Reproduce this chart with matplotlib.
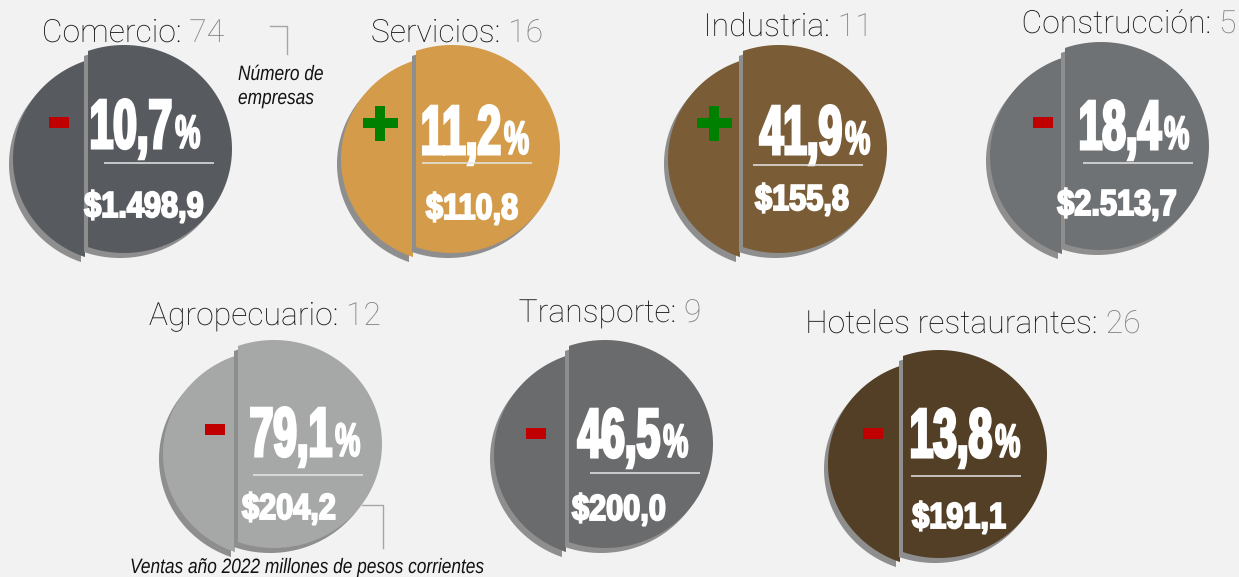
import numpy as np
import matplotlib
matplotlib.use("Agg")
import matplotlib.pyplot as plt
from matplotlib.patches import Polygon, Rectangle
from matplotlib.patheffects import AbstractPathEffect
from matplotlib.transforms import Affine2D, Bbox
from matplotlib.text import Text

# ---------------- data ----------------
sectors = ["Comercio", "Servicios", "Industria", "Construcción",
           "Agropecuario", "Transporte", "Hoteles restaurantes"]
companies = [74, 16, 11, 5, 12, 9, 26]
change_pct = [-10.7, 11.2, 41.9, -18.4, -79.1, -46.5, -13.8]
sales_2022 = [1498.9, 110.8, 155.8, 2513.7, 204.2, 200.0, 191.1]
colors = ["#575a5f", "#d49b4a", "#7a5c36", "#6f7275",
          "#a6a7a7", "#6a6b6d", "#533f26"]

# ---------------- layout (pixels) ----------------
W, H = 1239, 577
circ = [(124, 149), (452, 149), (779, 149), (1101, 146), (274, 444), (605, 444), (939, 454)]
title_pos = [(133, 42), (457, 42), (788, 36), (1129, 33), (265, 325), (610, 322), (973, 333)]
pct_pos = [(145, 148), (475, 154), (815, 154), (1134, 149), (305, 456), (633, 457), (965, 457)]
val_pos = [(144, 217), (472, 219), (802, 210), (1117, 215), (289, 519), (619, 520), (959, 528)]
line_pos = [(104, 163), (422, 163), (753, 165), (1083, 163), (253, 475), (590, 473), (911, 476)]
sign_pos = [(59, 122), (380, 123), (714, 123), (1043, 122), (215, 429), (536, 433), (873, 433)]
RX, RY, SPLIT = 108, 104, -36
LEFT_SHIFT = (-3, 10)
SHADOW = (-4, 5)
SHADOW_COL = "#8e8e8e"
BG = "#f2f2f2"


class Squeeze(AbstractPathEffect):
    """Draw glyphs horizontally condensed (optionally emboldened)."""
    def __init__(self, sx=1.0, lw=0.0):
        super().__init__()
        self.sx = sx
        self.lw = lw

    def draw_path(self, renderer, gc, tpath, affine, rgbFace=None):
        gc0 = renderer.new_gc()
        gc0.copy_properties(gc)
        if self.lw > 0 and rgbFace is not None:
            gc0.set_linewidth(self.lw)
            gc0.set_foreground(rgbFace)
            gc0.set_joinstyle("miter")
        renderer.draw_path(gc0, tpath, Affine2D().scale(self.sx, 1.0) + affine, rgbFace)
        gc0.restore()


class SqueezedText(Text):
    """Real text object, left aligned, drawn condensed; extent reports condensed width."""
    def __init__(self, x, y, s, sx=1.0, lw=0.0, **kw):
        super().__init__(x, y, s, ha="left", va="baseline", **kw)
        self._sx = sx
        self.set_path_effects([Squeeze(sx, lw)])

    def get_window_extent(self, renderer=None, dpi=None):
        bb = super().get_window_extent(renderer, dpi)
        return Bbox.from_extents(bb.x0, bb.y0, bb.x0 + bb.width * self._sx, bb.y1)


fig = plt.figure(figsize=(W / 100, H / 100), dpi=100)
fig.patch.set_facecolor(BG)
ax = fig.add_axes([0, 0, 1, 1])
ax.set_xlim(0, W)
ax.set_ylim(H, 0)
ax.axis("off")
ax.set_facecolor(BG)

fig.canvas.draw()
renderer = fig.canvas.get_renderer()


def add_text(x, y, s, sx=1.0, lw=0.0, **kw):
    t = SqueezedText(x, y, s, sx=sx, lw=lw, **kw)
    ax.add_artist(t)
    return t


def width(t):
    return t.get_window_extent(renderer).width


def ellipse_pts(cx, cy, t0, t1, n=120):
    t = np.linspace(t0, t1, n)
    return np.column_stack([cx + RX * np.cos(t), cy + RY * np.sin(t)])


def draw_pie(cx, cy, color, d=SPLIT):
    ta = np.arccos(d / RX)
    right = ellipse_pts(cx, cy, -ta, ta)
    left = ellipse_pts(cx, cy, ta, 2 * np.pi - ta) + np.array(LEFT_SHIFT)
    sh = np.array(SHADOW)
    ax.add_patch(Polygon(left + sh, closed=True, fc=SHADOW_COL, ec="none", zorder=1))
    ax.add_patch(Polygon(left, closed=True, fc=color, ec="none", zorder=2))
    ax.add_patch(Polygon(right + sh, closed=True, fc=SHADOW_COL, ec="none", zorder=3))
    ax.add_patch(Polygon(right, closed=True, fc=color, ec="none", zorder=4))


TITLE_KW = dict(family=["Roboto", "DejaVu Sans"], fontweight="light", fontsize=23, zorder=6)
NUM_KW = dict(family=["Liberation Sans", "DejaVu Sans"], fontweight="bold", color="white", zorder=7)
NOTE_KW = dict(family=["Liberation Sans", "DejaVu Sans"], style="italic", fontsize=15,
               color="#111111", zorder=6)
SX_PCT, SX_SIGN, SX_VAL, SX_NOTE = 0.61, 0.60, 0.85, 0.83


def fmt_pct(v):
    return f"{abs(v):.1f}".replace(".", ",")


def fmt_money(v):
    s = f"{v:,.1f}"
    return "$" + s.replace(",", "X").replace(".", ",").replace("X", ".")


for i, name in enumerate(sectors):
    cx, cy = circ[i]
    draw_pie(cx, cy, colors[i])

    # title
    tx, ty = title_pos[i]
    t1 = add_text(0, ty, f"{name}: ", color="#111111", **TITLE_KW)
    t2 = add_text(0, ty, f"{companies[i]}", color="#808080", **TITLE_KW)
    w1, w2 = width(t1), width(t2)
    x0 = tx - (w1 + w2) / 2
    t1.set_x(x0)
    t2.set_x(x0 + w1)

    # percentage
    px, py = pct_pos[i]
    d = add_text(0, py, fmt_pct(change_pct[i]), sx=SX_PCT, lw=2.2, fontsize=50, **NUM_KW)
    p = add_text(0, py, "%", sx=SX_SIGN, lw=1.2, fontsize=34, **NUM_KW)
    wd, wp = width(d), width(p)
    gx = px - (wd + wp + 3) / 2
    d.set_x(gx)
    p.set_x(gx + wd + 3)

    # underline
    lx, ly = line_pos[i]
    ax.plot([lx, lx + 110], [ly, ly], color="#e6e6e6", lw=1.1, zorder=7, solid_capstyle="butt")

    # sales value
    vx, vy = val_pos[i]
    v = add_text(0, vy, fmt_money(sales_2022[i]), sx=SX_VAL, lw=1.4, fontsize=26, **NUM_KW)
    v.set_x(vx - width(v) / 2)

    # sign
    sx_, sy_ = sign_pos[i]
    if change_pct[i] < 0:
        ax.add_patch(Rectangle((sx_ - 10, sy_ - 5.5), 20, 11, fc="#c00000", ec="none", zorder=8))
    else:
        ax.add_patch(Rectangle((sx_ - 17.5, sy_ - 5), 35, 10, fc="#008000", ec="none", zorder=8))
        ax.add_patch(Rectangle((sx_ - 5, sy_ - 17.5), 10, 35, fc="#008000", ec="none", zorder=8))

# annotations
ax.plot([270, 287, 287], [26, 26, 54], color="#a6a6a6", lw=1.0, zorder=5)
add_text(238, 80, "Número de", sx=SX_NOTE, **NOTE_KW)
add_text(238, 104, "empresas", sx=SX_NOTE, **NOTE_KW)

ax.plot([362, 383, 383], [505, 505, 548], color="#a6a6a6", lw=1.0, zorder=5)
vt = add_text(0, 573, "Ventas año 2022 millones de pesos corrientes", sx=SX_NOTE, **NOTE_KW)
vt.set_x(307.5 - width(vt) / 2)

fig.savefig("out.png", dpi=100, facecolor=BG)
